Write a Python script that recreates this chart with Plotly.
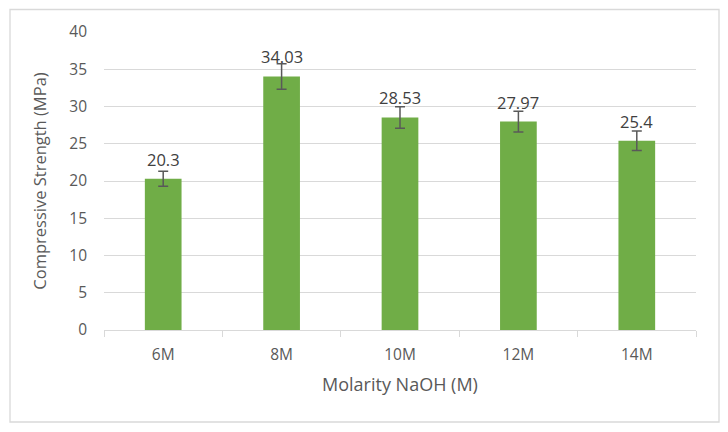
import plotly.graph_objects as go

categories = ["6M", "8M", "10M", "12M", "14M"]
strength = [20.3, 34.03, 28.53, 27.97, 25.4]
errors = [1.0, 1.7, 1.45, 1.4, 1.3]
labels = ["20.3", "34.03", "28.53", "27.97", "25.4"]

FONT = "Open Sans"
GREY = "#595959"

fig = go.Figure()
fig.add_trace(go.Bar(
    x=categories, y=strength,
    marker=dict(color="#70AD47", line=dict(width=0)),
    error_y=dict(type="data", array=errors, visible=True,
                 color=GREY, thickness=1.5, width=5),
    width=0.31,
    hoverinfo="x+y",
))

for c, v, t in zip(categories, strength, labels):
    fig.add_annotation(x=c, y=v, text=t, showarrow=False,
                       yanchor="bottom", yshift=6,
                       font=dict(family=FONT, size=16.5, color="#404040"))

L, R, T, B = 104, 32, 32, 102
W, H = 728, 432
pw, ph = W - L - R, H - T - B

def px_x(p):
    return (p - L) / pw

def px_y(p):
    return (H - B - p) / ph

fig.add_shape(type="rect", xref="paper", yref="paper",
              x0=px_x(10), x1=px_x(719), y0=px_y(422), y1=px_y(9.5),
              line=dict(color="#D9D9D9", width=1.3), fillcolor="rgba(0,0,0,0)",
              layer="below")

fig.update_layout(
    width=W, height=H,
    margin=dict(l=L, r=R, t=T, b=B),
    paper_bgcolor="white", plot_bgcolor="white",
    font=dict(family=FONT, color=GREY),
    showlegend=False,
    xaxis=dict(
        title=dict(text="Molarity NaOH (M)", font=dict(family=FONT, size=18, color=GREY), standoff=14),
        tickfont=dict(family=FONT, size=15.5, color=GREY),
        showline=True, linecolor="#D9D9D9", linewidth=1.3,
        ticks="outside", tickson="boundaries", ticklen=6, tickcolor="#D9D9D9",
        showgrid=False,
        ticklabelstandoff=10,
    ),
    yaxis=dict(
        title=dict(text="Compressive Strength (MPa)", font=dict(family=FONT, size=16.5, color=GREY), standoff=18),
        tickfont=dict(family=FONT, size=15.5, color=GREY),
        range=[0, 40], dtick=5, tick0=0,
        showgrid=True, gridcolor="#D9D9D9", gridwidth=1.3,
        zeroline=False, showline=False, ticks="",
        ticklabelstandoff=16,
    ),
)

fig.write_html("out.html", config={"displayModeBar": False},
               post_script="document.body.style.margin='0';document.body.style.padding='0';")
